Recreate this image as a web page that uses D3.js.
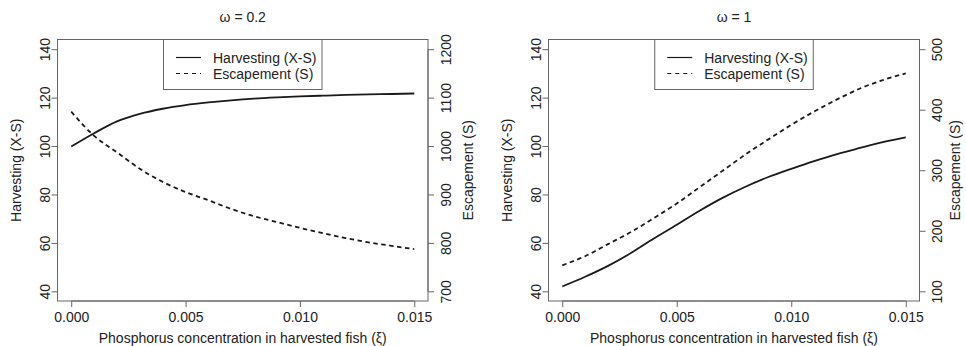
<!DOCTYPE html>
<html>
<head>
<meta charset="utf-8">
<script src="https://cdn.jsdelivr.net/npm/d3@7"></script>
<style>
  html, body { margin: 0; padding: 0; background: #fff; }
  svg { display: block; font-family: "Liberation Sans", Arial, sans-serif; }
</style>
</head>
<body>
<svg id="chart" width="966" height="346"></svg>
<script>
// Phosphorus concentration in harvested fish (xi)
const xi = [0, 0.001, 0.002, 0.003, 0.004, 0.005, 0.006, 0.007,
            0.008, 0.009, 0.010, 0.011, 0.012, 0.013, 0.014, 0.015];

// omega = 0.2
const harvestW02 = [99.8, 105.3, 110.2, 113.3, 115.4, 116.9, 118.0, 118.9,
                    119.6, 120.1, 120.5, 120.8, 121.1, 121.3, 121.5, 121.7];
const escapeW02  = [1071, 1021, 987, 953, 926, 905, 888, 870,
                    855, 843, 831, 820, 810, 801, 794, 787];

// omega = 1
const harvestW1 = [42.0, 46.0, 50.5, 55.8, 61.8, 67.5, 73.3, 78.6,
                   83.2, 87.2, 90.6, 93.8, 96.7, 99.2, 101.6, 103.6];
const escapeW1  = [143, 158, 178, 198, 221, 245, 272, 299,
                   326, 351, 375, 397, 417, 435, 449, 460];

// Axis ticks
const xTicks = [0, 0.005, 0.010, 0.015];
const leftTicks = [40, 60, 80, 100, 120, 140];
const rightTicksW02 = [700, 800, 900, 1000, 1100, 1200];
const rightTicksW1 = [100, 200, 300, 400, 500];

// Axis titles and legend entries
const xTitle = "Phosphorus concentration in harvested fish (\u03BE)";
const leftTitle = "Harvesting (X-S)";
const rightTitle = "Escapement (S)";
const legendLabels = ["Harvesting (X-S)", "Escapement (S)"];

const svg = d3.select("#chart");
const FONT = 14;
const TEXT = "#222";
const FRAME = "#666";
const LINE = "#1a1a1a";
const DASH = "4.5,3.5";

function panel(opts) {
  const { left, right, top, bottom, title, harvest, escape, rightDomain, rightTicks, rightTitleOffset } = opts;
  const g = svg.append("g");

  const x = d3.scaleLinear().domain([-0.0006, 0.0156]).range([left, right]);
  const yL = d3.scaleLinear().domain([36, 144]).range([bottom, top]);
  const yR = d3.scaleLinear().domain(rightDomain).range([bottom, top]);

  // plot frame
  g.append("rect")
    .attr("x", left).attr("y", top)
    .attr("width", right - left).attr("height", bottom - top)
    .attr("fill", "none").attr("stroke", FRAME).attr("stroke-width", 1);

  // bottom axis
  const ax = g.append("g").attr("transform", `translate(0,${bottom})`)
    .call(d3.axisBottom(x).tickValues(xTicks).tickFormat(d3.format(".3f")).tickSize(6).tickPadding(5));
  ax.select(".domain").attr("stroke", FRAME).attr("d", `M${x(xTicks[0])},0H${x(xTicks[xTicks.length - 1])}`);
  ax.selectAll(".tick line").attr("stroke", FRAME);
  ax.selectAll(".tick text").attr("font-size", FONT).attr("fill", TEXT).attr("font-family", null);

  // left axis, labels parallel to the axis
  const al = g.append("g").attr("transform", `translate(${left},0)`)
    .call(d3.axisLeft(yL).tickValues(leftTicks).tickFormat(d3.format("d")).tickSize(6));
  al.select(".domain").attr("stroke", FRAME).attr("d", `M0,${yL(leftTicks[0])}V${yL(leftTicks[leftTicks.length - 1])}`);
  al.selectAll(".tick line").attr("stroke", FRAME);
  al.selectAll(".tick text")
    .attr("font-size", FONT).attr("fill", TEXT).attr("font-family", null)
    .attr("x", null).attr("dy", null)
    .attr("text-anchor", "middle")
    .attr("transform", "translate(-8,0) rotate(-90)");

  // right axis
  const ar = g.append("g").attr("transform", `translate(${right},0)`)
    .call(d3.axisRight(yR).tickValues(rightTicks).tickFormat(d3.format("d")).tickSize(6));
  ar.select(".domain").attr("stroke", FRAME).attr("d", `M0,${yR(rightTicks[0])}V${yR(rightTicks[rightTicks.length - 1])}`);
  ar.selectAll(".tick line").attr("stroke", FRAME);
  ar.selectAll(".tick text")
    .attr("font-size", FONT).attr("fill", TEXT).attr("font-family", null)
    .attr("x", null).attr("dy", null)
    .attr("text-anchor", "middle")
    .attr("transform", "translate(22.5,0) rotate(-90)");

  const cx = (left + right) / 2;
  const cy = (top + bottom) / 2;

  // title
  g.append("text").attr("x", cx).attr("y", 22)
    .attr("text-anchor", "middle").attr("font-size", FONT).attr("fill", TEXT)
    .text(title);

  // axis titles
  g.append("text").attr("x", cx).attr("y", 343)
    .attr("text-anchor", "middle").attr("font-size", FONT).attr("fill", TEXT)
    .text(xTitle);
  g.append("text")
    .attr("transform", `translate(${left - 36.5},${cy}) rotate(-90)`)
    .attr("text-anchor", "middle").attr("font-size", FONT).attr("fill", TEXT)
    .text(leftTitle);
  g.append("text")
    .attr("transform", `translate(${right + rightTitleOffset},${cy}) rotate(-90)`)
    .attr("text-anchor", "middle").attr("font-size", FONT).attr("fill", TEXT)
    .text(rightTitle);

  // curves
  const lineL = d3.line().x((d, i) => x(xi[i])).y(d => yL(d)).curve(d3.curveMonotoneX);
  const lineR = d3.line().x((d, i) => x(xi[i])).y(d => yR(d)).curve(d3.curveMonotoneX);
  g.append("path").attr("d", lineL(harvest))
    .attr("fill", "none").attr("stroke", LINE).attr("stroke-width", 1.8);
  g.append("path").attr("d", lineR(escape))
    .attr("fill", "none").attr("stroke", LINE).attr("stroke-width", 1.8)
    .attr("stroke-dasharray", DASH);

  // legend, anchored at the top centre of the plot frame
  const lw = 158.5, lh = 50;
  const lx = cx - lw / 2;
  const lg = g.append("g").attr("transform", `translate(${lx},${top})`);
  lg.append("rect").attr("width", lw).attr("height", lh)
    .attr("fill", "#fff").attr("stroke", FRAME).attr("stroke-width", 1);
  legendLabels.forEach((lab, i) => {
    const ry = 18 + i * 16;
    lg.append("line").attr("x1", 12.5).attr("x2", 37.5).attr("y1", ry).attr("y2", ry)
      .attr("stroke", LINE).attr("stroke-width", 1.2)
      .attr("stroke-dasharray", i === 1 ? "4,4" : null);
    lg.append("text").attr("x", 49.5).attr("y", ry + 5)
      .attr("font-size", FONT).attr("fill", TEXT).text(lab);
  });
}

panel({
  left: 57.5, right: 428, top: 39.5, bottom: 301,
  title: "\u03C9 = 0.2",
  harvest: harvestW02, escape: escapeW02,
  rightDomain: [680, 1220], rightTicks: rightTicksW02,
  rightTitleOffset: 44.5
});

panel({
  left: 548.5, right: 919.5, top: 39.5, bottom: 301,
  title: "\u03C9 = 1",
  harvest: harvestW1, escape: escapeW1,
  rightDomain: [84, 516], rightTicks: rightTicksW1,
  rightTitleOffset: 40.5
});
</script>
</body>
</html>
